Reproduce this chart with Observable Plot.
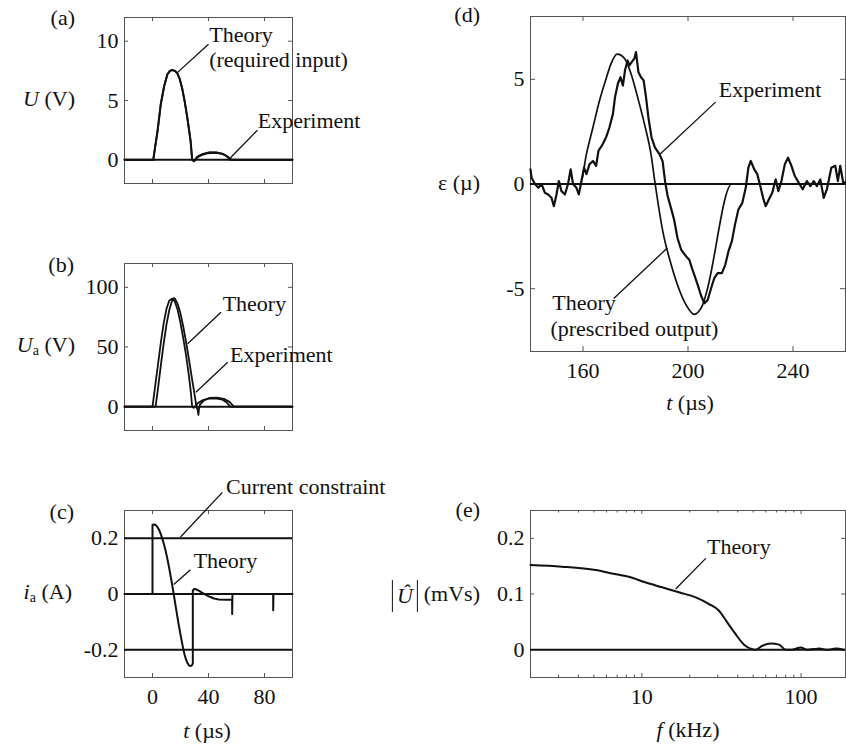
<!DOCTYPE html>
<html>
<head>
<meta charset="utf-8">
<script src="https://cdn.jsdelivr.net/npm/d3@7"></script>
<script src="https://cdn.jsdelivr.net/npm/@observablehq/plot@0.6"></script>
<style>
  html, body { margin: 0; padding: 0; background: #fff; }
  #chart { position: relative; width: 846px; height: 749px; overflow: hidden;
    font-family: "Liberation Serif", "Times New Roman", serif; font-size: 22px; color: #111; }
  #chart svg { position: absolute; overflow: visible; max-width: none; }
  .lbl { position: absolute; white-space: nowrap; line-height: 1; }
  .lbl sub { font-size: 14px; vertical-align: -3px; font-style: normal; }
  .abs { display: inline-block; border-left: 1.3px solid #111; border-right: 1.3px solid #111;
    padding: 0 4px; line-height: 32px; height: 32px; vertical-align: middle; margin-right: 6px; }
</style>
</head>
<body>
<div id="chart"></div>
<script>
// ---------------- data ----------------
// common time ticks for (a),(b),(c)
const tTicks = [0, 40, 80];

// (a) required input voltage U (V)
const aTheoryT = [-20, 0.5, 2, 3.6, 5.9, 8.3, 10.6, 12.5, 14, 16, 17.7, 19.5, 21.3, 23, 24.8, 26, 27.2, 28.3, 29.5, 30.5, 32, 35, 39, 45, 50, 53, 55.7, 100];
const aTheoryU = [0, 0, 1.2, 2.44, 4.7, 6.2, 7.2, 7.5, 7.56, 7.5, 7.3, 6.8, 5.97, 4.9, 3.6, 2.6, 1.6, 0, -0.12, 0, 0.2, 0.4, 0.55, 0.6, 0.5, 0.3, 0, 0];
const aExpT = [-20, 0.6, 2, 3.6, 5.9, 8.3, 10.6, 12.5, 14, 16, 17.7, 19.5, 21.3, 23, 24.8, 26, 27.2, 28.4, 29.6, 30.5, 32, 36, 41, 46, 51, 54, 56.5, 100];
const aExpU = [0, 0, 1.15, 2.4, 4.65, 6.2, 7.2, 7.5, 7.58, 7.5, 7.3, 6.8, 5.95, 4.9, 3.6, 2.6, 1.6, 0, -0.1, 0, 0.28, 0.5, 0.64, 0.62, 0.45, 0.25, 0, 0];
const aYTicks = [0, 5, 10];

// (b) amplifier voltage Ua (V)
const bTheoryT = [-20, 0, 2, 4, 6, 8, 10, 12, 14, 16, 18, 20, 22, 24, 26, 27.5, 28.3, 29.5, 31, 33, 36, 40, 45, 50, 53, 55.5, 100];
const bTheoryU = [0, 0, 18, 36, 54, 70, 82, 89, 90.5, 88, 81, 70, 57, 43, 26, 11, 0, -1, 1, 3.5, 5.5, 6.8, 7, 5.8, 3.5, 0, 0];
const bExpT = [-20, 2.2, 4, 6, 8, 10, 12, 14, 15, 16, 18, 20, 22, 24, 26, 28, 30, 31.4, 32.3, 32.8, 33.2, 34, 37, 41, 46, 51, 55, 57, 58, 100];
const bExpU = [0, 0, 16, 35, 53, 69, 81, 89, 91, 90.5, 86, 78, 67, 54, 40, 25, 10.5, 0, -3, -7, -2, 2, 5.5, 7.3, 7.5, 6.5, 4, 1.5, 0, 0];
const bYTicks = [0, 50, 100];

// (c) amplifier current ia (A)
const cTheoryT = [-20, 0, 0, 1, 2, 3, 4, 5, 6, 7, 8, 9, 10, 11, 12, 13, 14, 15, 16, 17, 18, 19, 20, 21, 22, 23, 24, 25, 26, 27, 28, 28.8, 28.8, 29.6, 31, 33, 35, 38, 41, 44, 47.4, 52, 56.9, 56.9, 57.1, 86.2, 86.2, 86.4, 100];
const cTheoryI = [0, 0, 0.248, 0.25, 0.249, 0.244, 0.237, 0.227, 0.214, 0.199, 0.182, 0.163, 0.141, 0.117, 0.091, 0.063, 0.034, 0.004, -0.027, -0.058, -0.089, -0.118, -0.146, -0.173, -0.198, -0.219, -0.236, -0.248, -0.256, -0.259, -0.257, -0.25, 0.012, 0.018, 0.017, 0.012, 0.006, -0.003, -0.01, -0.016, -0.02, -0.021, -0.021, -0.072, 0, 0, -0.058, 0, 0];
const cConstraint = [0.2, -0.2];
const cYTicks = [-0.2, 0, 0.2];

// (d) strain ε (µ)
const dTheoryT = [140, 159, 161.3, 163.8, 166.3, 168.8, 170.7, 173, 175.8, 178.3, 180.8, 183.4, 185.9, 187.5, 190.4, 193.6, 196.7, 199.3, 202.4, 204, 205.5, 207, 216.7, 260];
const dTheoryE = [0, 0, 1.43, 2.71, 3.99, 5.03, 5.75, 6.2, 6.0, 5.27, 4.15, 2.87, 1.43, 0, -2.26, -3.86, -5.06, -5.78, -6.23, -6.1, -5.8, -5.2, 0, 0];
const dExpT = [140, 140.4, 141.7, 143, 144.2, 145.5, 146.7, 148, 148.9, 149.9, 150.8, 151.8, 153.1, 154.3, 155.3, 156.2, 157.5, 158.4, 159.4, 160.4, 161.3, 162.5, 163.8, 165, 165.9, 167.2, 168.8, 170.1, 171.4, 172.2, 173.3, 174.3, 175.2, 176, 177, 177.7, 178.6, 179.6, 180.2, 181.1, 182.1, 183.1, 184, 184.9, 186.1, 187.4, 189.1, 190.3, 191.3, 192.2, 193.5, 194.7, 196, 197.4, 199.3, 200.5, 201.5, 202.4, 203.7, 204.9, 206.2, 207.5, 208.8, 210, 211.3, 212.9, 214.2, 215.4, 216.7, 217.9, 219.2, 220.7, 222, 223, 223.9, 225.2, 226.4, 227.7, 228.6, 229.6, 230.8, 232.1, 233.4, 234.4, 235.6, 236.9, 238.1, 239.4, 240.7, 242.2, 243.7, 245.3, 246.6, 247.9, 249.1, 250.4, 251.7, 252.9, 254.6, 256.1, 257.1, 258, 259.2, 260];
const dExpE = [0.7, 0.3, 0, -0.18, 0, -0.42, -0.5, -0.66, -1.06, -0.5, 0.14, -0.34, -0.5, 0, 0.7, 0, -0.18, -0.5, 0.14, 0.78, 0.47, 0.95, 1.1, 0.87, 1.59, 1.83, 2.23, 2.71, 3.35, 4.15, 4.8, 5.1, 4.7, 5.43, 5.9, 5.67, 5.83, 6.0, 6.3, 5.35, 5.1, 4.95, 4.15, 3.19, 2.23, 1.75, 1.43, 1.1, 0.1, -0.55, -1.14, -1.7, -2.58, -3.14, -3.46, -3.62, -4.02, -4.34, -4.82, -5.3, -5.7, -5.54, -4.98, -4.5, -4.26, -4.26, -3.86, -3.22, -2.74, -1.94, -1.22, -0.9, -0.18, 0.78, 1.1, 0.71, 0.47, -0.18, -0.66, -1.06, -0.74, -0.42, 0.22, -0.34, 0.14, 0.95, 1.26, 0.87, 0.38, 0.06, -0.25, 0.14, -0.1, 0.14, -0.1, 0.22, -0.66, -0.26, 0.78, 0.87, 0.14, 0.87, 0, 0.1];
const dXTicks = [160, 200, 240];
const dYTicks = [-5, 0, 5];

// (e) input spectrum |Û| (mVs)
const eTheoryF = [2, 3.15, 5.12, 6.5, 8.28, 10.5, 13.4, 17.1, 21.8, 26.4, 30.5, 34.4, 38.8, 43.8, 49.5, 51.9, 57.1, 64.5, 72.7, 80.1, 88, 99.5, 109.6, 120, 130, 146, 165, 186];
const eTheoryU = [0.152, 0.149, 0.143, 0.137, 0.131, 0.121, 0.112, 0.103, 0.094, 0.082, 0.07, 0.049, 0.028, 0.009, 0.001, 0, 0.007, 0.011, 0.009, 0, 0, 0.004, 0, 0.001, 0.002, 0, 0.002, 0];
const eXTicks = [10, 100];
const eXMinor = [3, 4, 5, 6, 7, 8, 9, 20, 30, 40, 50, 60, 70, 80, 90];
const eYTicks = [0, 0.1, 0.2];

// annotations (data coordinates)
const aNotes = [{x: 40.5, y: 10.5, text: "Theory"}, {x: 40.5, y: 8.4, text: "(required input)"}, {x: 75.2, y: 3.27, text: "Experiment"}];
const aLeaders = [{x1: 17.7, y1: 7.35, x2: 40, y2: 9.75}, {x1: 55.7, y1: 0.17, x2: 75, y2: 2.5}];
const bNotes = [{x: 50.1, y: 85.7, text: "Theory"}, {x: 55.4, y: 43.7, text: "Experiment"}];
const bLeaders = [{x1: 25.1, y1: 52.7, x2: 48.9, y2: 79.2}, {x1: 31, y1: 12, x2: 53.7, y2: 37.2}];
const cNotes = [{x: 52.5, y: 0.386, text: "Current constraint"}, {x: 29.4, y: 0.118, text: "Theory"}];
const cLeaders = [{x1: 20, y1: 0.205, x2: 49.9, y2: 0.365}, {x1: 15.2, y1: 0.034, x2: 27.1, y2: 0.087}];
const dNotes = [{x: 211.7, y: 4.47, text: "Experiment"}, {x: 148.3, y: -5.66, text: "Theory"}, {x: 147.6, y: -6.91, text: "(prescribed output)"}];
const dLeaders = [{x1: 189.4, y1: 1.43, x2: 210.5, y2: 3.91}, {x1: 192.1, y1: -3.06, x2: 171.7, y2: -5.47}];
const eNotes = [{x: 25.7, y: 0.185, text: "Theory"}];
const eLeaders = [{x1: 16.3, y1: 0.109, x2: 25.2, y2: 0.164}];

// ---------------- drawing ----------------
const chart = document.getElementById("chart");
const INK = "#111";
const FRAME = "#555";
const FONT = '"Liberation Serif", "Times New Roman", serif';
const zip = (xs, ys) => xs.map((x, i) => ({x, y: ys[i]}));
const fmt = d => String(d);

function boxTicks(xt, yt, fw, fh, len) {
  return [
    Plot.tickX(xt, {x: d => d, insetTop: fh - len, stroke: FRAME, strokeWidth: 1}),
    Plot.tickX(xt, {x: d => d, insetBottom: fh - len, stroke: FRAME, strokeWidth: 1}),
    Plot.tickY(yt, {y: d => d, insetRight: fw - len, stroke: FRAME, strokeWidth: 1}),
    Plot.tickY(yt, {y: d => d, insetLeft: fw - len, stroke: FRAME, strokeWidth: 1})
  ];
}

function notes(list, leaders) {
  return [
    Plot.link(leaders, {x1: "x1", y1: "y1", x2: "x2", y2: "y2", stroke: INK, strokeWidth: 1.3}),
    Plot.text(list, {x: "x", y: "y", text: "text", textAnchor: "start", lineAnchor: "middle",
      fontSize: 22, fontFamily: FONT, fill: INK})
  ];
}

function panel({frame, x, y, xLabels, marks}) {
  const [fl, ft, fw, fh] = frame;
  const ml = 70, mr = 12, mt = 12, mb = 50;
  const svg = Plot.plot({
    width: fw + ml + mr, height: fh + mt + mb,
    marginLeft: ml, marginRight: mr, marginTop: mt, marginBottom: mb,
    x: {...x, label: null, tickSize: 0, tickPadding: 11, tickFormat: fmt, axis: xLabels ? "bottom" : null},
    y: {...y, label: null, tickSize: 0, tickPadding: 6, tickFormat: fmt},
    style: {fontFamily: FONT, fontSize: "22px", color: INK, background: "transparent", overflow: "visible"},
    marks: [
      Plot.frame({stroke: FRAME, strokeWidth: 1}),
      ...marks
    ]
  });
  svg.style.left = (fl - ml) + "px";
  svg.style.top = (ft - mt) + "px";
  chart.append(svg);
}

// (a)
panel({
  frame: [124, 17, 168, 166],
  x: {domain: [-20, 100], ticks: tTicks},
  y: {domain: [-2, 12], ticks: aYTicks},
  xLabels: false,
  marks: [
    ...boxTicks(tTicks, aYTicks, 168, 166, 4),
    Plot.ruleY([0], {stroke: INK, strokeWidth: 2}),
    Plot.line(zip(aExpT, aExpU), {x: "x", y: "y", stroke: INK, strokeWidth: 1.8}),
    Plot.line(zip(aTheoryT, aTheoryU), {x: "x", y: "y", stroke: INK, strokeWidth: 2}),
    ...notes(aNotes, aLeaders)
  ]
});

// (b)
panel({
  frame: [124, 263, 168, 167],
  x: {domain: [-20, 100], ticks: tTicks},
  y: {domain: [-20, 120], ticks: bYTicks},
  xLabels: false,
  marks: [
    ...boxTicks(tTicks, bYTicks, 168, 167, 4),
    Plot.ruleY([0], {stroke: INK, strokeWidth: 2}),
    Plot.line(zip(bExpT, bExpU), {x: "x", y: "y", stroke: INK, strokeWidth: 1.8}),
    Plot.line(zip(bTheoryT, bTheoryU), {x: "x", y: "y", stroke: INK, strokeWidth: 1.8}),
    ...notes(bNotes, bLeaders)
  ]
});

// (c)
panel({
  frame: [124, 510, 168, 167],
  x: {domain: [-20, 100], ticks: tTicks},
  y: {domain: [-0.3, 0.3], ticks: cYTicks},
  xLabels: true,
  marks: [
    ...boxTicks(tTicks, cYTicks, 168, 167, 4),
    Plot.ruleY([0], {stroke: INK, strokeWidth: 2}),
    Plot.ruleY(cConstraint, {stroke: INK, strokeWidth: 2}),
    Plot.line(zip(cTheoryT, cTheoryI), {x: "x", y: "y", stroke: INK, strokeWidth: 2}),
    ...notes(cNotes, cLeaders)
  ]
});

// (d)
panel({
  frame: [530, 16, 315, 335],
  x: {domain: [140, 260], ticks: dXTicks},
  y: {domain: [-8, 8], ticks: dYTicks},
  xLabels: true,
  marks: [
    ...boxTicks(dXTicks, dYTicks, 315, 335, 5),
    Plot.ruleY([0], {stroke: INK, strokeWidth: 1.8}),
    Plot.line(zip(dTheoryT, dTheoryE), {x: "x", y: "y", stroke: INK, strokeWidth: 1.7, curve: "monotone-x"}),
    Plot.line(zip(dExpT, dExpE), {x: "x", y: "y", stroke: INK, strokeWidth: 2.2, strokeLinejoin: "round"}),
    ...notes(dNotes, dLeaders)
  ]
});

// (e)
panel({
  frame: [530, 510, 315, 167],
  x: {type: "log", domain: [2, 190], ticks: eXTicks},
  y: {domain: [-0.05, 0.25], ticks: eYTicks},
  xLabels: true,
  marks: [
    ...boxTicks(eXTicks, eYTicks, 315, 167, 4),
    Plot.tickX(eXMinor, {x: d => d, insetTop: 167 - 2.5, stroke: FRAME, strokeWidth: 1}),
    Plot.tickX(eXMinor, {x: d => d, insetBottom: 167 - 2.5, stroke: FRAME, strokeWidth: 1}),
    Plot.ruleY([0], {stroke: INK, strokeWidth: 2}),
    Plot.line(zip(eTheoryF, eTheoryU), {x: "x", y: "y", stroke: INK, strokeWidth: 2, curve: "monotone-x"}),
    ...notes(eNotes, eLeaders)
  ]
});

// ---------------- HTML labels ----------------
function label(html, x, y, align) {
  const d = document.createElement("div");
  d.className = "lbl";
  d.innerHTML = html;
  d.style.top = y + "px";
  d.style.left = x + "px";
  d.style.transform = align === "right" ? "translate(-100%, -50%)" : "translate(-50%, -50%)";
  chart.append(d);
}
// panel letters
label("(a)", 75, 18, "right");
label("(b)", 74, 265, "right");
label("(c)", 74, 512, "right");
label("(d)", 480, 15, "right");
label("(e)", 480, 510, "right");
// y-axis titles
label("<i>U</i> (V)", 75, 99, "right");
label("<i>U</i><sub>a</sub> (V)", 75, 346, "right");
label("<i>i</i><sub>a</sub> (A)", 72, 593, "right");
label("ε (µ)", 480, 183, "right");
label('<span class="abs"><i>Û</i></span>(mVs)', 480, 596, "right");
// x-axis titles
label("<i>t</i> (µs)", 207, 731, "center");
label("<i>t</i> (µs)", 690, 403, "center");
label("<i>f</i> (kHz)", 688, 730, "center");
</script>
</body>
</html>
